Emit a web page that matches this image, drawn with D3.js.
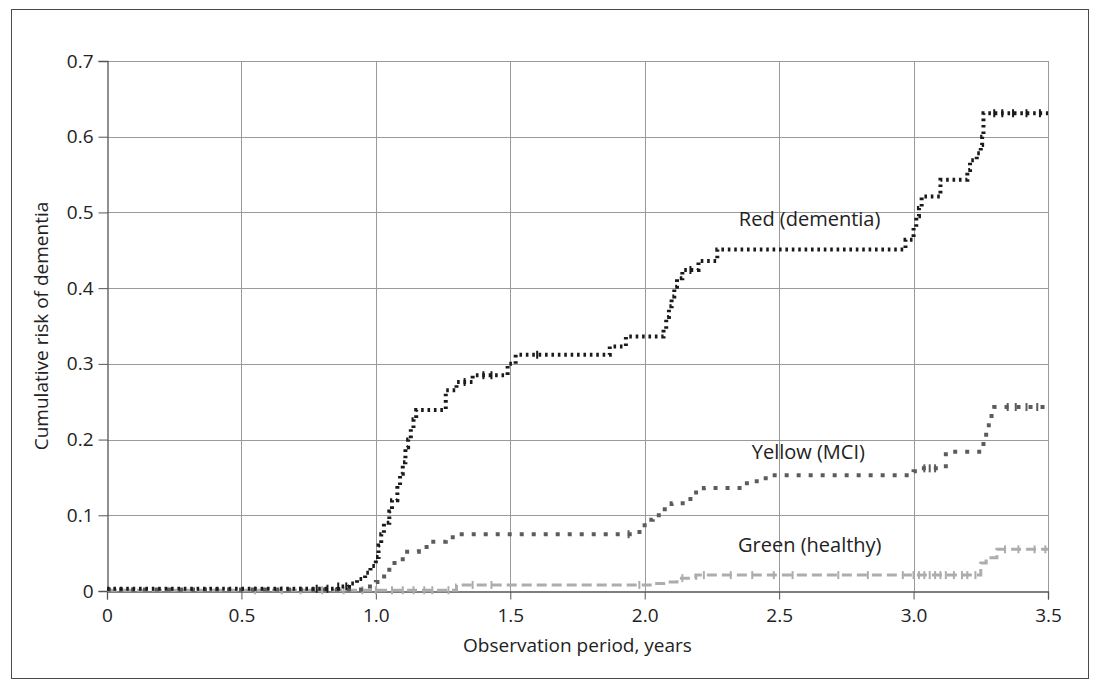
<!DOCTYPE html>
<html>
<head>
<meta charset="utf-8">
<script src="https://cdn.jsdelivr.net/npm/d3@7"></script>
<style>
  body { margin: 0; background: #fff; }
  text { font-family: "Open Sans", "Noto Sans", sans-serif; fill: #222; }
</style>
</head>
<body>
<svg id="chart" width="1099" height="688"></svg>
<script>
// -----------------------------------------------------------------------------
// data (step curves: value holds from each time until the next one)

var xTicks = [0, 0.5, 1.0, 1.5, 2.0, 2.5, 3.0, 3.5];
var yTicks = [0, 0.1, 0.2, 0.3, 0.4, 0.5, 0.6, 0.7];

var redTimes = [0, 0.86, 0.9, 0.93, 0.96, 0.98, 1.0, 1.01, 1.02, 1.03, 1.05, 1.06,
  1.08, 1.09, 1.1, 1.11, 1.12, 1.13, 1.14, 1.15, 1.26, 1.3, 1.36, 1.49, 1.52,
  1.87, 1.93, 2.07, 2.08, 2.09, 2.1, 2.11, 2.12, 2.14, 2.2, 2.27, 2.97, 3.0,
  3.01, 3.02, 3.03, 3.1, 3.2, 3.21, 3.235, 3.25, 3.255, 3.26, 3.5];
var redRisk = [0.003, 0.006, 0.01, 0.016, 0.024, 0.033, 0.045, 0.06, 0.075,
  0.09, 0.105, 0.12, 0.14, 0.155, 0.17, 0.19, 0.2, 0.215, 0.227, 0.239, 0.265,
  0.276, 0.285, 0.3, 0.312, 0.323, 0.336, 0.345, 0.362, 0.376, 0.389, 0.402,
  0.413, 0.424, 0.436, 0.451, 0.464, 0.481, 0.495, 0.506, 0.521, 0.543, 0.556,
  0.569, 0.578, 0.589, 0.6, 0.631, 0.631];

var yellowTimes = [0, 0.97, 1.0, 1.015, 1.05, 1.1, 1.16, 1.2, 1.26, 1.3, 1.96,
  1.99, 2.01, 2.03, 2.06, 2.1, 2.17, 2.22, 2.38, 2.45, 3.0, 3.02, 3.12, 3.26,
  3.27, 3.28, 3.29, 3.3, 3.5];
var yellowRisk = [0.002, 0.006, 0.012, 0.019, 0.037, 0.052, 0.058, 0.065, 0.071,
  0.075, 0.078, 0.087, 0.094, 0.1, 0.108, 0.116, 0.13, 0.136, 0.145, 0.153,
  0.158, 0.162, 0.184, 0.202, 0.21, 0.219, 0.235, 0.243, 0.243];

var greenTimes = [0, 1.3, 2.03, 2.08, 2.12, 2.19, 3.25, 3.27, 3.31, 3.5];
var greenRisk = [0.001, 0.008, 0.01, 0.012, 0.017, 0.021, 0.037, 0.044, 0.055,
  0.055];

// censored observations (time only, drawn on the curve)
var redCensored = [0.78, 0.82, 0.86, 0.89, 1.33, 1.4, 1.43, 1.6, 2.17, 3.3,
  3.33, 3.37, 3.42, 3.47];
var yellowCensored = [1.94, 3.04, 3.06, 3.08, 3.35, 3.38, 3.42, 3.46];
var greenCensored = [0.55, 0.65, 0.72, 0.8, 0.88, 0.95, 1.0, 1.06, 1.1, 1.14,
  1.18, 1.21, 1.27, 1.36, 1.43, 1.98, 2.14, 2.22, 2.32, 2.4, 2.48, 2.55, 2.72,
  2.83, 2.96, 3.0, 3.02, 3.04, 3.06, 3.08, 3.1, 3.12, 3.15, 3.18, 3.2, 3.23,
  3.34, 3.39, 3.45, 3.49];

var seriesLabels = ['Red (dementia)', 'Yellow (MCI)', 'Green (healthy)'];
var labelAt = [[2.35, 0.482], [2.398, 0.174], [2.347, 0.0515]];

// -----------------------------------------------------------------------------

var svg = d3.select('#chart');
var margin = { left: 107, right: 1048, top: 61, bottom: 591 };

var x = d3.scaleLinear().domain([0, 3.5]).range([margin.left, margin.right]);
var y = d3.scaleLinear().domain([0, 0.7]).range([margin.bottom, margin.top]);

// outer frame
svg.append('rect')
  .attr('x', 11.5).attr('y', 9.5)
  .attr('width', 1077).attr('height', 669)
  .attr('fill', 'none').attr('stroke', '#4a4a4a').attr('stroke-width', 1);

// - - - - - - - - - - - - - - - - - - - - - - - - - - - - - - - - - - - - - -
// grid

svg.append('g')
  .selectAll('line')
  .data(xTicks.slice(1))
  .join('line')
  .attr('x1', function (d) { return Math.round(x(d)) + 0.5; })
  .attr('x2', function (d) { return Math.round(x(d)) + 0.5; })
  .attr('y1', margin.top).attr('y2', margin.bottom)
  .attr('stroke', '#9a9a9a');

svg.append('g')
  .selectAll('line')
  .data(yTicks.slice(1))
  .join('line')
  .attr('x1', margin.left).attr('x2', margin.right)
  .attr('y1', function (d) { return Math.round(y(d)) + 0.5; })
  .attr('y2', function (d) { return Math.round(y(d)) + 0.5; })
  .attr('stroke', '#9a9a9a');

// - - - - - - - - - - - - - - - - - - - - - - - - - - - - - - - - - - - - - -
// axes

var tickFmt = function (d) { return d === 0 ? '0' : d3.format('.1f')(d); };

var xAxis = svg.append('g')
  .attr('transform', 'translate(0,' + (margin.bottom + 0.5) + ')')
  .call(d3.axisBottom(x).tickValues(xTicks).tickSize(8).tickPadding(9)
    .tickFormat(tickFmt));

var yAxis = svg.append('g')
  .attr('transform', 'translate(' + (margin.left + 0.5) + ',0)')
  .call(d3.axisLeft(y).tickValues(yTicks).tickSize(9).tickPadding(5)
    .tickFormat(tickFmt));

[xAxis, yAxis].forEach(function (a) {
  a.select('.domain').attr('stroke', '#555').attr('stroke-width', 1.3);
  a.selectAll('.tick line').attr('stroke', '#555');
  a.selectAll('.tick text')
    .style('font-family', '"Open Sans", "Noto Sans", sans-serif')
    .style('font-size', '19px').attr('fill', '#222');
});

svg.append('text')
  .attr('x', (margin.left + margin.right) / 2).attr('y', 652)
  .attr('text-anchor', 'middle').style('font-size', '19px')
  .text('Observation period, years');

svg.append('text')
  .attr('transform', 'translate(48,' + ((margin.top + margin.bottom) / 2) + ') rotate(-90)')
  .attr('text-anchor', 'middle').style('font-size', '19px')
  .text('Cumulative risk of dementia');

// - - - - - - - - - - - - - - - - - - - - - - - - - - - - - - - - - - - - - -
// curves

var series = [
  { times: redTimes, risk: redRisk, censored: redCensored,
    color: '#1a1a1a', width: 4, dash: '2.6,3.8' },
  { times: yellowTimes, risk: yellowRisk, censored: yellowCensored,
    color: '#5c5c5c', width: 4, dash: '4,8' },
  { times: greenTimes, risk: greenRisk, censored: greenCensored,
    color: '#adadad', width: 3, dash: '10,5' }
];

var line = d3.line()
  .x(function (d) { return x(d[0]); })
  .y(function (d) { return y(d[1]); })
  .curve(d3.curveStepAfter);

function riskAt(s, t) {
  var i = d3.bisectRight(s.times, t) - 1;
  return s.risk[Math.max(0, i)];
}

var gSeries = svg.selectAll('g.series')
  .data(series.slice().reverse())
  .join('g')
  .classed('series', true);

gSeries.append('path')
  .attr('d', function (s) { return line(d3.zip(s.times, s.risk)); })
  .attr('fill', 'none')
  .attr('stroke', function (s) { return s.color; })
  .attr('stroke-width', function (s) { return s.width; })
  .attr('stroke-dasharray', function (s) { return s.dash; });

gSeries.each(function (s) {
  d3.select(this).selectAll('line.censor')
    .data(s.censored)
    .join('line')
    .classed('censor', true)
    .attr('x1', function (t) { return x(t); })
    .attr('x2', function (t) { return x(t); })
    .attr('y1', function (t) { return y(riskAt(s, t)) - 4; })
    .attr('y2', function (t) { return y(riskAt(s, t)) + 4; })
    .attr('stroke', s.color)
    .attr('stroke-width', 2);
});

// - - - - - - - - - - - - - - - - - - - - - - - - - - - - - - - - - - - - - -
// labels

svg.selectAll('text.series-label')
  .data(seriesLabels)
  .join('text')
  .classed('series-label', true)
  .attr('x', function (d, i) { return x(labelAt[i][0]); })
  .attr('y', function (d, i) { return y(labelAt[i][1]); })
  .style('font-size', '20px')
  .text(function (d) { return d; });
</script>
</body>
</html>
